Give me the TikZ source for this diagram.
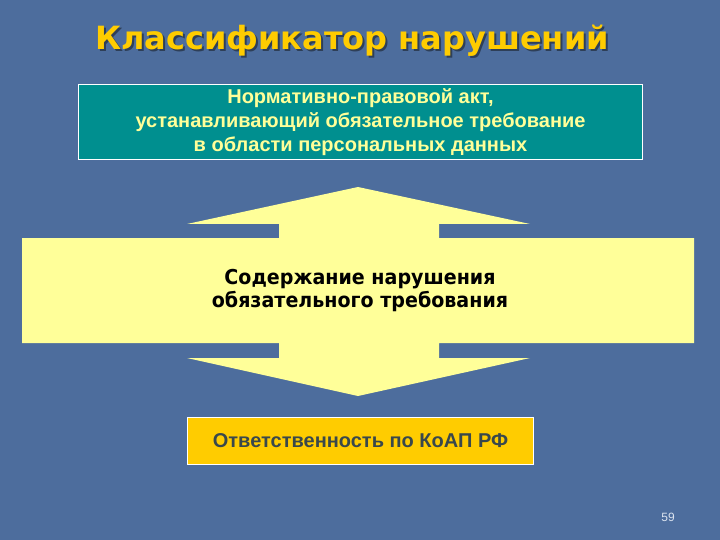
\documentclass[tikz,border=0pt]{standalone}
\usepackage{fontspec}
\setmainfont{Liberation Sans}
\newfontfamily\titlefont{DejaVu Sans}
\definecolor{bgblue}{HTML}{4D6D9D}
\definecolor{titleyellow}{HTML}{FFCC00}
\definecolor{titleshadow}{HTML}{2E3F58}
\definecolor{tealbox}{HTML}{008F8F}
\definecolor{paleyellow}{HTML}{FFFF99}
\definecolor{goldbox}{HTML}{FFCC00}
\definecolor{darktext}{HTML}{39484C}
\definecolor{pagenum}{HTML}{DCE4F0}
\tikzset{
  boxstyle/.style={draw=white, line width=1pt, inner sep=0pt, anchor=north west},
  bodytext/.style={font=\bfseries\fontsize{20}{24}\selectfont, align=center}
}
\newcommand{\shadowtext}[1]{\makebox[0pt][l]{\raisebox{-2pt}{\hspace{2pt}\textcolor{titleshadow}{#1}}}\textcolor{titleyellow}{#1}}
\begin{document}
\begin{tikzpicture}[x=1pt,y=-1pt]
\useasboundingbox (0,0) rectangle (720,540);
\fill[bgblue] (0,0) rectangle (720,540);
% title with shadow
\node[font=\titlefont\bfseries\fontsize{32}{36}\selectfont] (title) at (352,42) {\shadowtext{Классификатор нарушений}};
% teal box
\node[boxstyle, fill=tealbox, minimum width=564pt, minimum height=75pt] (act) at (78,84) {};
\node[bodytext, text=paleyellow] (acttext) at (act.center) {Нормативно-правовой акт,\\устанавливающий обязательное требование\\в области персональных данных};
% double arrow shape
\fill[paleyellow] (358,187) -- (530,224) -- (439,224) -- (439,238) -- (694,238) -- (694,343)
  -- (439,343) -- (439,358) -- (530,358) -- (358,396) -- (187,358) -- (279,358) -- (279,343)
  -- (22,343) -- (22,238) -- (279,238) -- (279,224) -- (187,224) -- cycle;
\node[inner sep=0pt, text=black] (content) at (360,292) {\scalebox{0.93}[1]{\titlefont\bfseries\fontsize{20.5}{22}\selectfont
  \begin{tabular}{@{}c@{}}Содержание нарушения\\обязательного требования\end{tabular}}};
% responsibility box
\node[boxstyle, fill=goldbox, minimum width=346pt, minimum height=47pt] (resp) at (187,417) {};
\node[font=\bfseries\fontsize{20}{24}\selectfont, text=darktext] (resptext) at (resp.center) {Ответственность по КоАП РФ};
% page number
\node[font=\fontsize{12}{14}\selectfont, text=pagenum] (page) at (668,517) {59};
\end{tikzpicture}
\end{document}
